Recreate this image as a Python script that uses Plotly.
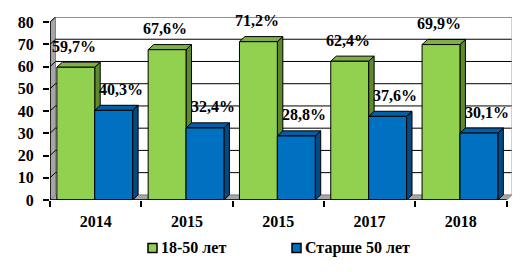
import plotly.graph_objects as go

# ---- data ----
years = ["2014", "2015", "2015", "2017", "2018"]
series_names = ["18-50 лет", "Старше 50 лет"]
young = [59.7, 67.6, 71.2, 62.4, 69.9]
older = [40.3, 32.4, 28.8, 37.6, 30.1]
y_ticks = [0, 10, 20, 30, 40, 50, 60, 70, 80]

# ---- style / geometry ----
FONT = "'Liberation Serif', 'Times New Roman', 'DejaVu Serif', serif"
DX = 0.06      # 3D depth in category units
DY = 2.3       # 3D depth in value units
YMAX = 80
BAR_W = 0.415
OFFSETS = [-0.425, -0.01]
FRONT = ["#92D050", "#0070C0"]
TOP = ["#7FAF45", "#005FA6"]
SIDE = ["#5E8A2C", "#004A86"]
BOLD = dict(family=FONT, size=16, color="black", weight="bold")

n = len(years)
xs = list(range(n))
x0, x1 = -0.5, n - 0.5

fig = go.Figure()

def poly(xx, yy, fill, line="black", lw=1):
    fig.add_trace(go.Scatter(x=xx, y=yy, mode="lines", fill="toself",
                             fillcolor=fill, line=dict(color=line, width=lw),
                             hoverinfo="skip", showlegend=False))

# left wall
poly([x0, x0 + DX, x0 + DX, x0, x0], [0, DY, YMAX + DY, YMAX, 0], "#A6A6A6", line="#808080")
# floor
poly([x0, x1, x1 + DX, x0 + DX, x0], [0, 0, DY, DY, 0], "#A6A6A6", line="#808080")

# back wall gridlines + left-wall diagonals
gx, gy = [], []
for v in y_ticks[1:]:
    gx += [x0, x0 + DX, x1 + DX, None]
    gy += [v, v + DY, v + DY, None]
fig.add_trace(go.Scatter(x=gx, y=gy, mode="lines", line=dict(color="black", width=1),
                         hoverinfo="skip", showlegend=False))
# back wall border (right & top)
fig.add_trace(go.Scatter(x=[x0 + DX, x1 + DX, x1 + DX, x1], y=[YMAX + DY, YMAX + DY, DY, 0],
                         mode="lines", line=dict(color="#A0A0A0", width=1),
                         hoverinfo="skip", showlegend=False))

# bars as 3D prisms
for si, vals in enumerate([young, older]):
    sx, sy, tx, ty, fx, fy = [], [], [], [], [], []
    for i, v in zip(xs, vals):
        xl = i + OFFSETS[si]
        xr = xl + BAR_W
        sx += [xr, xr, xr + DX, xr + DX, xr, None]
        sy += [0, v, v + DY, DY, 0, None]
        tx += [xl, xr, xr + DX, xl + DX, xl, None]
        ty += [v, v, v + DY, v + DY, v, None]
        fx += [xl, xr, xr, xl, xl, None]
        fy += [0, 0, v, v, 0, None]
    poly(sx, sy, SIDE[si])
    poly(tx, ty, TOP[si])
    poly(fx, fy, FRONT[si])

# front axis lines
fig.add_trace(go.Scatter(x=[x0, x0, x1], y=[YMAX, 0, 0], mode="lines",
                         line=dict(color="black", width=1.5), hoverinfo="skip", showlegend=False))

# data labels
LBL_DX = [-0.02, 0.085]
for si, vals in enumerate([young, older]):
    for i, v in zip(xs, vals):
        cx = i + OFFSETS[si] + BAR_W / 2 + LBL_DX[si]
        fig.add_annotation(x=cx, y=v, yshift=21, showarrow=False,
                           text=f"{v:.1f}%".replace(".", ","), font=BOLD)

# legend (drawn manually to match the compact Excel layout)
LEG_X = [148, 292]          # pixel x of legend squares
LEG_Y = 248                 # pixel y of legend centre
W, H = 529, 272
ML, MR, MT, MB = 50, 17, 17, 72
pw, ph = W - ML - MR, H - MT - MB
for si, name in enumerate(series_names):
    px0 = (LEG_X[si] - ML) / pw
    px1 = (LEG_X[si] + 9 - ML) / pw
    py0 = (H - MB - (LEG_Y + 4.5)) / ph
    py1 = (H - MB - (LEG_Y - 4.5)) / ph
    fig.add_shape(type="rect", xref="paper", yref="paper", x0=px0, x1=px1, y0=py0, y1=py1,
                  fillcolor=FRONT[si], line=dict(color="black", width=1.5))
    fig.add_annotation(xref="paper", yref="paper", x=(LEG_X[si] + 11 - ML) / pw,
                       y=(py0 + py1) / 2, xanchor="left", yanchor="middle",
                       showarrow=False, text=name, font=BOLD)

fig.update_layout(
    width=W, height=H,
    margin=dict(l=ML, r=MR, t=MT, b=MB),
    paper_bgcolor="white", plot_bgcolor="white",
    showlegend=False,
    xaxis=dict(range=[x0, x1 + DX], tickvals=xs, ticktext=years, showgrid=False,
               zeroline=False, showline=False, ticks="", ticklabelstandoff=10,
               tickfont=BOLD, fixedrange=True,
               minor=dict(tickvals=[x0 + k for k in range(n + 1)], ticks="outside",
                          ticklen=6, tickcolor="black", tickwidth=1.5, showgrid=False)),
    yaxis=dict(range=[0, YMAX + DY], tickvals=y_ticks, showgrid=False, zeroline=False,
               showline=False, ticks="outside", ticklen=6, tickcolor="black", tickwidth=1.5,
               ticklabelstandoff=6, tickfont=BOLD, fixedrange=True),
)

fig.write_html("out.html", config={"displayModeBar": False},
               post_script="document.body.style.margin='0';")
